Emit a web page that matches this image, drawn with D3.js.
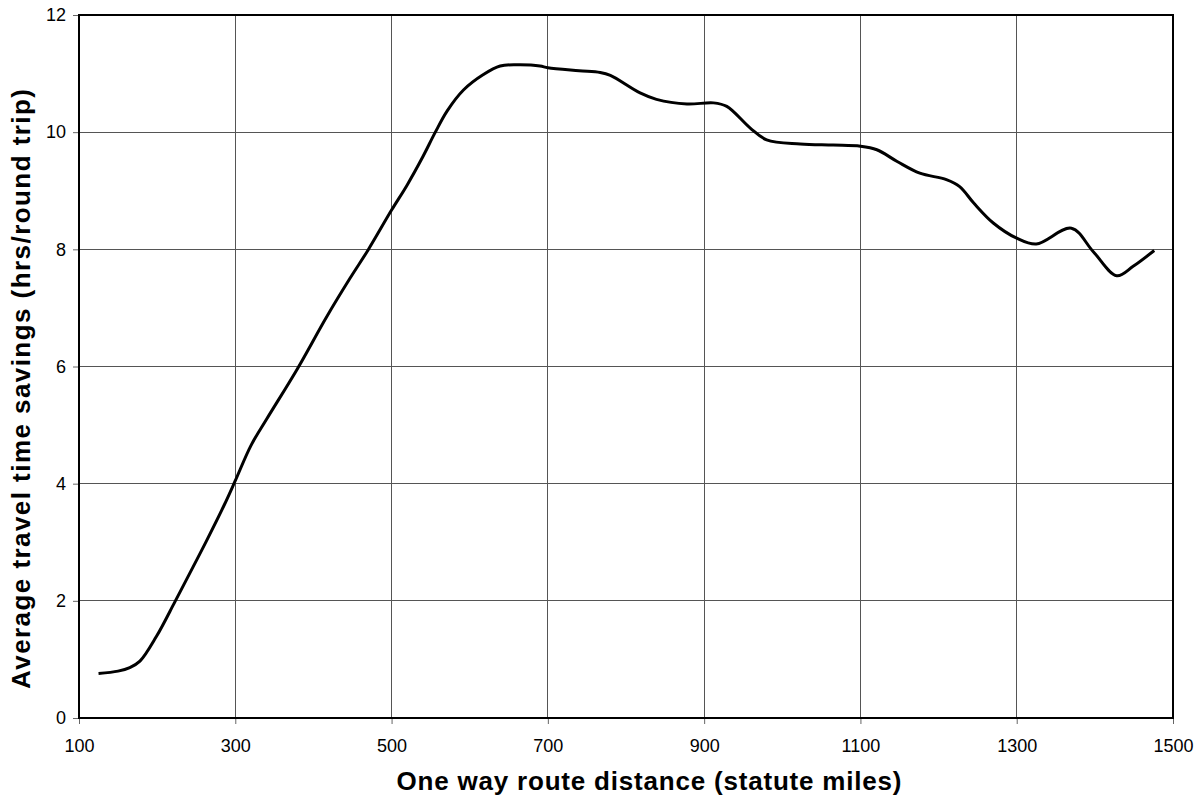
<!DOCTYPE html>
<html lang="en">
<head>
  <meta charset="utf-8" />
  <title>Travel time savings</title>
  <script type="text/javascript" src="https://cdn.jsdelivr.net/npm/d3@7"></script>
  <style type="text/css">
body { margin: 0; background: white; }
text { font-family: "Liberation Sans", Arial, sans-serif; fill: black; }
  </style>
</head>
<body>

<script type="text/javascript">

// distance (statute miles) and savings (hrs/round trip)
var distance = [125, 150, 165, 178, 199, 223, 246, 263, 286, 300, 320, 340, 379, 417, 447,
  470, 500, 520, 540, 556, 571, 592, 617, 639, 664, 690, 700, 740, 767, 780, 818, 839,
  878, 912, 929, 959, 980, 1023, 1065, 1100, 1121, 1147, 1176, 1210, 1227, 1245, 1270,
  1300, 1325, 1370, 1398, 1428, 1449, 1476];
var savings = [0.76, 0.80, 0.86, 0.97, 1.39, 1.99, 2.58, 3.02, 3.64, 4.05, 4.65, 5.1, 5.95,
  6.85, 7.51, 7.99, 8.67, 9.1, 9.58, 10.0, 10.36, 10.72, 10.98, 11.13, 11.15, 11.13,
  11.10, 11.05, 11.02, 10.97, 10.67, 10.56, 10.48, 10.50, 10.44, 10.07, 9.87, 9.80, 9.78,
  9.76, 9.70, 9.50, 9.30, 9.19, 9.07, 8.79, 8.45, 8.19, 8.09, 8.36, 7.96, 7.55, 7.71, 7.98];
var xTicks = [100, 300, 500, 700, 900, 1100, 1300, 1500];
var yTicks = [0, 2, 4, 6, 8, 10, 12];

var w = 1200;
var h = 796;
var pad = { left: 79, right: 27, top: 15, bottom: 78 };

var svg = d3.select("body")
    .append("svg")
    .attr("width", w)
    .attr("height", h);

var x = d3.scaleLinear()
    .domain([100, 1500])
    .range([pad.left, w - pad.right]);
var y = d3.scaleLinear()
    .domain([0, 12])
    .range([h - pad.bottom, pad.top]);

// gridlines
svg.append("g")
    .selectAll("line")
    .data(xTicks.slice(1, -1))
    .enter().append("line")
    .attr("x1", function(d) { return x(d); })
    .attr("x2", function(d) { return x(d); })
    .attr("y1", y(0))
    .attr("y2", y(12))
    .attr("stroke", "#555")
    .attr("stroke-width", 1)
    .attr("shape-rendering", "crispEdges");
svg.append("g")
    .selectAll("line")
    .data(yTicks.slice(1, -1))
    .enter().append("line")
    .attr("x1", x(100))
    .attr("x2", x(1500))
    .attr("y1", function(d) { return y(d); })
    .attr("y2", function(d) { return y(d); })
    .attr("stroke", "#555")
    .attr("stroke-width", 1)
    .attr("shape-rendering", "crispEdges");

// axes
var xAxis = svg.append("g")
    .attr("transform", "translate(0," + y(0) + ")")
    .call(d3.axisBottom(x).tickValues(xTicks).tickFormat(d3.format("d"))
      .tickSize(6).tickPadding(15));
var yAxis = svg.append("g")
    .attr("transform", "translate(" + x(100) + ",0)")
    .call(d3.axisLeft(y).tickValues(yTicks).tickFormat(d3.format("d"))
      .tickSize(6).tickPadding(7));
[xAxis, yAxis].forEach(function(a) {
  a.select(".domain").remove();
  a.selectAll(".tick line").attr("stroke", "#666");
  a.selectAll("text").style("font-size", "18px").attr("fill", "black");
});

// plot frame
svg.append("rect")
    .attr("x", x(100))
    .attr("y", y(12))
    .attr("width", x(1500) - x(100))
    .attr("height", y(0) - y(12))
    .attr("fill", "none")
    .attr("stroke", "black")
    .attr("stroke-width", 2);

// the curve
var line = d3.line()
    .x(function(d, i) { return x(distance[i]); })
    .y(function(d) { return y(d); })
    .curve(d3.curveCatmullRom.alpha(0.5));
svg.append("path")
    .datum(savings)
    .attr("d", line)
    .attr("fill", "none")
    .attr("stroke", "black")
    .attr("stroke-width", 3)
    .attr("stroke-linejoin", "round");

// axis titles
svg.append("text")
    .attr("x", 649)
    .attr("y", 790)
    .attr("text-anchor", "middle")
    .attr("textLength", 505)
    .attr("lengthAdjust", "spacing")
    .style("font-size", "26px")
    .style("font-weight", "bold")
    .text("One way route distance (statute miles)");
svg.append("text")
    .attr("transform", "translate(30,389) rotate(-90)")
    .attr("text-anchor", "middle")
    .attr("textLength", 600)
    .attr("lengthAdjust", "spacing")
    .style("font-size", "26px")
    .style("font-weight", "bold")
    .text("Average travel time savings (hrs/round trip)");

</script>

</body>
</html>
